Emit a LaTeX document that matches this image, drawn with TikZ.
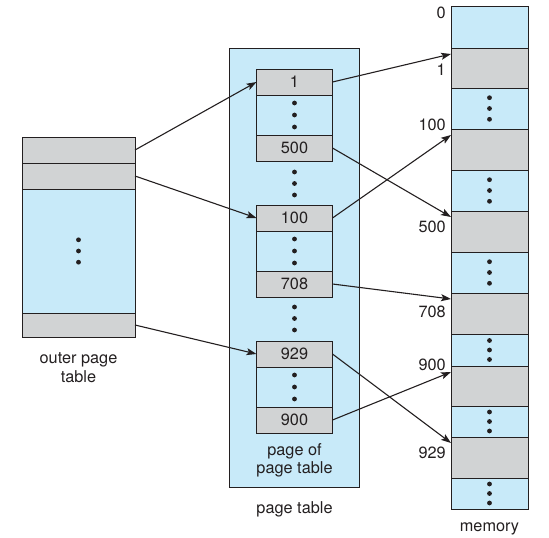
\documentclass[tikz,border=0pt]{standalone}
\usepackage{fontspec}
\setmainfont{TeX Gyre Heros}
\usetikzlibrary{arrows.meta}
\definecolor{cblue}{RGB}{200,234,249}
\definecolor{cgray}{RGB}{209,211,212}
\definecolor{cink}{RGB}{35,31,32}
\begin{document}
\begin{tikzpicture}[x=1pt,y=-1pt,
  every node/.style={font=\fontsize{16.3}{18.5}\selectfont, text=cink},
  cell/.style={draw=cink, line width=1pt, inner sep=0pt, outer sep=0pt},
  gcell/.style={cell, fill=cgray},
  bcell/.style={cell, fill=cblue},
  ocol/.style={minimum width=113pt},
  pcol/.style={minimum width=76pt},
  mcol/.style={minimum width=77pt},
  lbl/.style={anchor=east, inner sep=0pt},
  conn/.style={draw=cink, line width=1.1pt, -{Stealth[length=10pt,width=7pt,inset=2.2pt]}},
  dotf/.style={fill=cink}
]
\useasboundingbox (0,0) rectangle (549,538);

% ---------- outer page table ----------
\node[gcell, ocol, minimum height=26pt] (o1) at (78.5,150) {};
\node[gcell, ocol, minimum height=26pt] (o2) at (78.5,176) {};
\node[bcell, ocol, minimum height=124pt] (ob) at (78.5,251) {};
\node[gcell, ocol, minimum height=24pt] (o3) at (78.5,325) {};
\foreach \d in {-11.2,0,11.2} \fill[dotf] ([yshift=\d pt]ob.center) circle (2.4pt);
\node[align=center] (olbl) at (78.5,367.5) {outer page\\table};

% ---------- page table ----------
\node[bcell, minimum width=130pt, minimum height=439pt] (pt) at (294,267.5) {};

\node[gcell, pcol, minimum height=26pt] (p1)   at (294.5,82) {1};
\node[bcell, pcol, minimum height=40pt] (pd1)  at (294.5,115) {};
\node[gcell, pcol, minimum height=26pt] (p500) at (294.5,148) {500};

\node[gcell, pcol, minimum height=26pt] (p100) at (294.5,218) {100};
\node[bcell, pcol, minimum height=40pt] (pd2)  at (294.5,251) {};
\node[gcell, pcol, minimum height=26pt] (p708) at (294.5,284) {708};

\node[gcell, pcol, minimum height=26pt] (p929) at (294.5,354) {929};
\node[bcell, pcol, minimum height=40pt] (pd3)  at (294.5,387) {};
\node[gcell, pcol, minimum height=26pt] (p900) at (294.5,420) {900};

\foreach \n in {pd1,pd2,pd3}
  \foreach \d in {-12,0,12} \fill[dotf] ([yshift=\d pt]\n.center) circle (2.4pt);
\coordinate (gap1) at (294.5,183.5);
\coordinate (gap2) at (294.5,318.5);
\foreach \n in {gap1,gap2}
  \foreach \d in {-11.5,0,11.5} \fill[dotf] ([yshift=\d pt]\n) circle (2.4pt);

\node[align=center] (pplbl) at (294.5,460.5) {page of\\page table};
\node (ptlbl) at (294.5,509) {page table};

% ---------- memory ----------
\node[bcell, mcol, minimum height=42pt] (m0)   at (489.5,27) {};
\node[gcell, mcol, minimum height=40pt] (m1)   at (489.5,68) {};
\node[bcell, mcol, minimum height=41pt] (md1)  at (489.5,108.5) {};
\node[gcell, mcol, minimum height=41pt] (m100) at (489.5,149.5) {};
\node[bcell, mcol, minimum height=41pt] (md2)  at (489.5,190.5) {};
\node[gcell, mcol, minimum height=41pt] (m500) at (489.5,231.5) {};
\node[bcell, mcol, minimum height=41pt] (md3)  at (489.5,272.5) {};
\node[gcell, mcol, minimum height=41pt] (m708) at (489.5,313.5) {};
\node[bcell, mcol, minimum height=32pt] (md4)  at (489.5,350) {};
\node[gcell, mcol, minimum height=40pt] (m900) at (489.5,386) {};
\node[bcell, mcol, minimum height=31pt] (md5)  at (489.5,421.5) {};
\node[gcell, mcol, minimum height=41pt] (m929) at (489.5,457.5) {};
\node[bcell, mcol, minimum height=31pt] (md6)  at (489.5,493.5) {};

\foreach \n in {md1,md2,md3}
  \foreach \d in {-10.8,0,10.8} \fill[dotf] ([yshift=\d pt]\n.center) circle (2.4pt);
\foreach \n in {md4,md5,md6}
  \foreach \d in {-9.5,0,9.5} \fill[dotf] ([yshift=\d pt]\n.center) circle (2.4pt);

\node[lbl] (l0)   at (446,13)  {0};
\node[lbl] (l1)   at (446,70)  {1};
\node[lbl] (l100) at (446,125) {100};
\node[lbl] (l500) at (446,227) {500};
\node[lbl] (l708) at (446,312) {708};
\node[lbl] (l900) at (446,365) {900};
\node[lbl] (l929) at (446,453) {929};
\node (mlbl) at (489.5,529) {memory};

% ---------- connectors ----------
\draw[conn] (o1.east) -- (p1.west);
\draw[conn] (o2.east) -- (p100.west);
\draw[conn] (o3.east) -- (p929.west);

\draw[conn] (p1.east)   -- ([yshift=-6pt]m1.north west);
\draw[conn] (p500.east) -- ([yshift=-6pt]m500.north west);
\draw[conn] (p100.east) -- ([yshift=-6pt]m100.north west);
\draw[conn] (p708.east) -- ([yshift=-6pt]m708.north west);
\draw[conn] (p929.east) -- ([yshift=-6pt]m929.north west);
\draw[conn] (p900.east) -- ([yshift=-6pt]m900.north west);
\end{tikzpicture}
\end{document}
